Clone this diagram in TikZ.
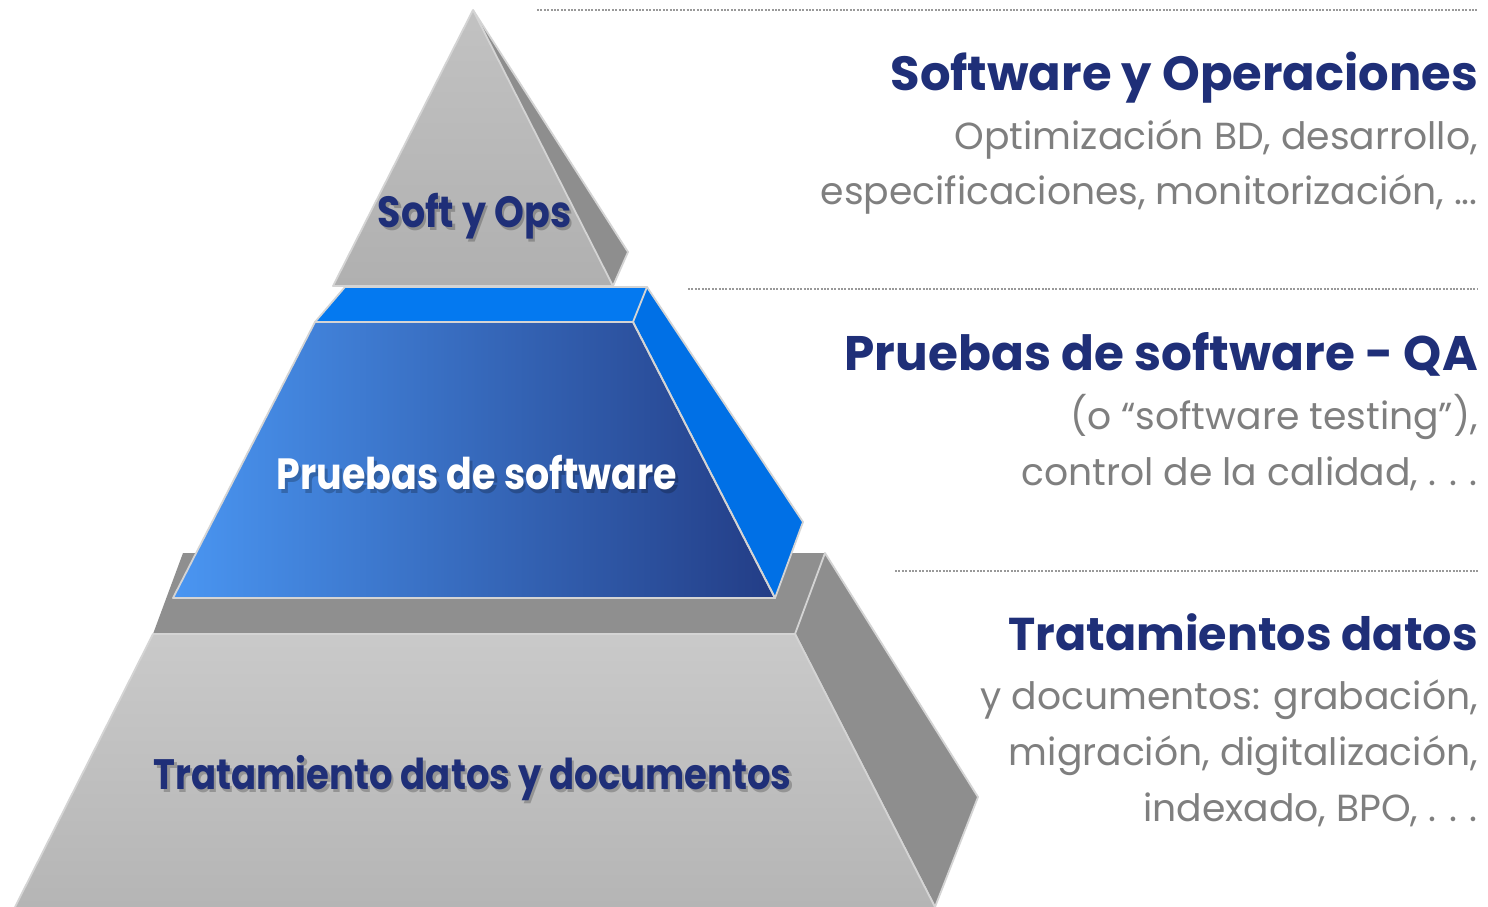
\documentclass[tikz,border=0pt]{standalone}
\usepackage{fontspec}
\setmainfont{Poppins}
\definecolor{navy}{HTML}{1F2F78}
\definecolor{txtgray}{HTML}{7F7F7F}
\definecolor{edgegray}{HTML}{D4D4D4}
\definecolor{sidegray}{HTML}{8E8E8E}
\definecolor{topgray}{HTML}{8F8F8F}
\definecolor{brightblue}{HTML}{0479F0}
\definecolor{sideblue}{HTML}{0070E6}
\definecolor{lightblue}{HTML}{4A96F2}
\definecolor{darkblue}{HTML}{233D86}
\newcommand{\spdots}{.\kern0.34em.\kern0.34em.}
\newcommand{\tallbox}[1]{\scalebox{1}[1.15]{#1}}
\begin{document}
\begin{tikzpicture}[x=1pt,y=-1pt,
  facet/.style={draw=edgegray,line width=1.8pt,line join=round},
  title/.style={anchor=base east,inner sep=0pt,text=navy},
  desc/.style={anchor=base east,inner sep=0pt,text=txtgray,font=\fontsize{37.7}{44}\selectfont},
  lbl/.style={inner sep=0pt,font=\fontsize{38}{44}\selectfont\bfseries},
  shadowtxt/.style={inner sep=0pt,text=black,opacity=0.22,font=\fontsize{38}{44}\selectfont\bfseries},
  sep/.style={draw=txtgray!80,line width=1.6pt,dash pattern=on 2pt off 1.4pt}]
\useasboundingbox (0,0) rectangle (1488,907);
% ---------- bottom block
\coordinate (b1) at (183,553);
\coordinate (b2) at (825,553);
\coordinate (b3) at (795,634);
\coordinate (b4) at (153,634);
\coordinate (b5) at (978,797);
\coordinate (b6) at (935,907);
\coordinate (b7) at (15,907);
\fill[topgray] (b1) -- (b2) -- (b3) -- (b4) -- cycle;
\fill[sidegray] (b2) -- (b5) -- (b6) -- (b3) -- cycle;
\draw[facet] (b6) -- (b3) -- (b2) -- (b5) -- (b6);
\shade[top color=black!21, bottom color=black!29]
  (b4) -- (b3) -- (b6) -- (b7) -- cycle;
\draw[facet] (b7) -- (b4) -- (b3) -- (b6);
% ---------- middle block
\coordinate (m1) at (345,287);
\coordinate (m2) at (647,287);
\coordinate (m3) at (633,322);
\coordinate (m4) at (315,322);
\coordinate (m5) at (803,522);
\coordinate (m6) at (775,598);
\coordinate (m7) at (173,598);
\fill[brightblue] (m1) -- (m2) -- (m3) -- (m4) -- cycle;
\fill[sideblue] (m2) -- (m5) -- (m6) -- (m3) -- cycle;
\shade[left color=lightblue, right color=darkblue] (m4) -- (m3) -- (m6) -- (m7) -- cycle;
\draw[facet] (m1) -- (m2) -- (m3) -- (m4) -- cycle;
\draw[facet] (m2) -- (m5) -- (m6) -- (m3);
\draw[facet] (m4) -- (m3) -- (m6) -- (m7) -- cycle;
% ---------- top pyramid
\coordinate (t1) at (473,10);
\coordinate (t2) at (628,252);
\coordinate (t3) at (613,286);
\coordinate (t4) at (333,286);
\fill[sidegray] (t1) -- (t2) -- (t3) -- cycle;
\shade[top color=black!24, bottom color=black!31] (t1) -- (t3) -- (t4) -- cycle;
\draw[facet] (t1) -- (t2) -- (t3);
\draw[facet] (t1) -- (t3) -- (t4) -- cycle;
% ---------- pyramid labels
\node[shadowtxt] (s1) at (477,219.5) {\tallbox{Soft y Ops}};
\node[lbl,text=navy] (l1) at (474.5,216) {\tallbox{Soft y Ops}};
\node[shadowtxt] (s2) at (479.5,476.5) {\tallbox{Pruebas de software}};
\node[lbl,text=white] (l2) at (477,473) {\tallbox{Pruebas de software}};
\node[shadowtxt,font=\fontsize{37}{44}\selectfont\bfseries] (s3) at (475,781.5) {\tallbox{Tratamiento datos y documentos}};
\node[lbl,text=navy,font=\fontsize{37}{44}\selectfont\bfseries] (l3) at (472.5,778) {\tallbox{Tratamiento datos y documentos}};
% ---------- separators
\coordinate (d1a) at (537,10);  \coordinate (d1b) at (1478,10);
\coordinate (d2a) at (688,289); \coordinate (d2b) at (1478,289);
\coordinate (d3a) at (895,571); \coordinate (d3b) at (1478,571);
\draw[sep] (d1a) -- (d1b);
\draw[sep] (d2a) -- (d2b);
\draw[sep] (d3a) -- (d3b);
% ---------- right texts
\node[title,font=\fontsize{48}{56}\selectfont\bfseries] (h1) at (1478,90) {Software y Operaciones};
\node[desc] (h1a) at (1478,149) {Optimización BD, desarrollo,};
\node[desc] (h1b) at (1478,204) {especificaciones, monitorización, ...};
\node[title,font=\fontsize{48.5}{56}\selectfont\bfseries] (h2) at (1478,370) {Pruebas de software - QA};
\node[desc] (h2a) at (1478,429) {(o “software testing”),};
\node[desc] (h2b) at (1478,485) {control de la calidad, \spdots};
\node[title,font=\fontsize{46}{56}\selectfont\bfseries] (h3) at (1478,650) {Tratamientos datos};
\node[desc] (h3a) at (1478,709) {y documentos: grabación,};
\node[desc] (h3b) at (1478,765) {migración, digitalización,};
\node[desc] (h3c) at (1478,821) {indexado, BPO, \spdots};
\end{tikzpicture}
\end{document}
